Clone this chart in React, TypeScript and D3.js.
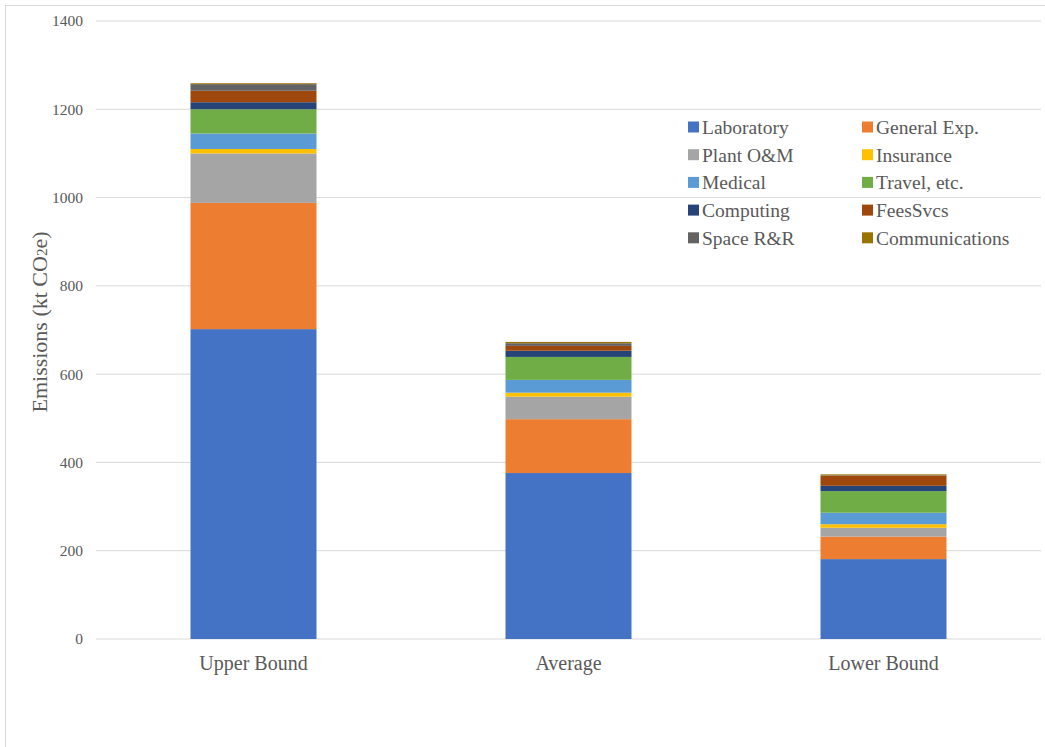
import React from "react";
import * as d3 from "d3";

const categories = ["Upper Bound", "Average", "Lower Bound"];
const seriesNames = ["Laboratory", "General Exp.", "Plant O&M", "Insurance", "Medical", "Travel, etc.", "Computing", "FeesSvcs", "Space R&R", "Communications"];
const seriesColors = ["#4472C4", "#ED7D31", "#A5A5A5", "#FFC000", "#5B9BD5", "#70AD47", "#264478", "#9E480E", "#636363", "#997300"];
// values per series: [Upper Bound, Average, Lower Bound]
const laboratory = [702, 376, 181];
const generalExp = [286, 122, 51];
const plantOM = [112, 51, 20];
const insurance = [10, 9, 8];
const medical = [35, 29, 26];
const travel = [55, 52, 49];
const computing = [16, 14, 12];
const feesSvcs = [26, 11, 23];
const spaceRR = [15, 6, 1];
const communications = [2, 3, 2];
const yTicks = [0, 200, 400, 600, 800, 1000, 1200, 1400];

const seriesValues = [laboratory, generalExp, plantOM, insurance, medical, travel, computing, feesSvcs, spaceRR, communications];

export default function App() {
  const W = 1045, H = 747;
  const x = d3.scaleBand().domain(categories).range([96, 1041]).paddingInner(0.6).paddingOuter(0.3);
  const y = d3.scaleLinear().domain([0, 1400]).range([639, 21]);
  const rows = categories.map((c, i) => {
    const o: any = { cat: c };
    seriesNames.forEach((s, j) => (o[s] = seriesValues[j][i]));
    return o;
  });
  const stacked = d3.stack().keys(seriesNames)(rows);
  const font = "'Liberation Serif', 'Times New Roman', serif";
  const txt = "#595959";
  return (
    <svg width={W} height={H} style={{ position: "absolute", left: 0, top: 0, background: "#fff" }} fontFamily={font}>
      <rect x={5.5} y={5.5} width={1060} height={760} fill="#fff" stroke="#D9D9D9" />
      {yTicks.map((t) => (
        <g key={t}>
          <line x1={96} x2={1041} y1={y(t)} y2={y(t)} stroke="#D9D9D9" strokeWidth={1} />
          <text x={83} y={y(t)} dy="0.35em" textAnchor="end" fontSize={15.5} fill={txt}>{t}</text>
        </g>
      ))}
      {stacked.map((layer, j) => (
        <g key={j} fill={seriesColors[j]}>
          {layer.map((d: any, i) => (
            <rect key={i} x={x(categories[i])} width={x.bandwidth()} y={y(d[1])} height={Math.max(0, y(d[0]) - y(d[1]))} />
          ))}
        </g>
      ))}
      {categories.map((c) => (
        <text key={c} x={(x(c) as number) + x.bandwidth() / 2} y={670} textAnchor="middle" fontSize={20} fill={txt}>{c}</text>
      ))}
      <text transform="translate(47,322) rotate(-90)" textAnchor="middle" fontSize={22} fill={txt}>
        Emissions (kt CO<tspan fontSize={15}>2</tspan>e)
      </text>
      {seriesNames.map((s, j) => {
        const col = j % 2, row = Math.floor(j / 2);
        const lx = col === 0 ? 688 : 862;
        const ly = 127 + row * 27.7;
        return (
          <g key={s}>
            <rect x={lx} y={ly - 5.5} width={11} height={11} fill={seriesColors[j]} />
            <text x={lx + 14} y={ly} dy="0.35em" fontSize={19.5} fill={txt}>{s}</text>
          </g>
        );
      })}
    </svg>
  );
}
